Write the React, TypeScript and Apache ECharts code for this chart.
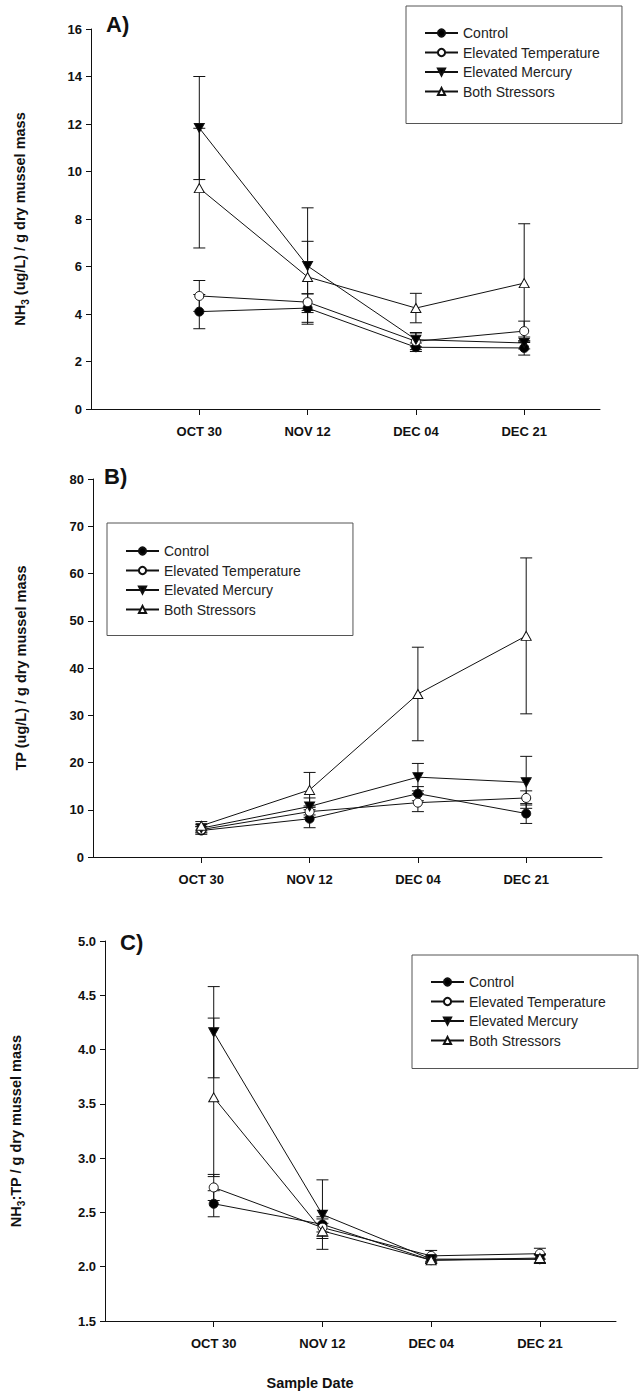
import React, { useEffect, useRef } from "react";
import * as echarts from "echarts";

const dates = ["OCT 30", "NOV 12", "DEC 04", "DEC 21"];
const seriesNames = ["Control", "Elevated Temperature", "Elevated Mercury", "Both Stressors"];

// Panel A: NH3 (ug/L) / g dry mussel mass
const nh3Control = [4.1, 4.25, 2.6, 2.57];
const nh3ControlErr = [0.72, 0.6, 0.18, 0.3];
const nh3Temp = [4.76, 4.5, 2.85, 3.28];
const nh3TempErr = [0.65, 0.35, 0.35, 0.42];
const nh3Mercury = [11.83, 6.02, 2.92, 2.78];
const nh3MercuryErr = [2.17, 2.45, 0.3, 0.25];
const nh3Both = [9.3, 5.56, 4.25, 5.3];
const nh3BothErr = [2.52, 1.5, 0.62, 2.5];

// Panel B: TP (ug/L) / g dry mussel mass
const tpControl = [5.6, 8.1, 13.4, 9.2];
const tpControlErr = [0.8, 1.9, 1.5, 2.1];
const tpTemp = [5.8, 9.6, 11.5, 12.5];
const tpTempErr = [0.7, 1.2, 1.9, 1.5];
const tpMercury = [6.1, 10.7, 16.9, 15.8];
const tpMercuryErr = [0.8, 1.8, 2.9, 5.5];
const tpBoth = [6.6, 14.2, 34.5, 46.8];
const tpBothErr = [0.9, 3.7, 9.9, 16.5];

// Panel C: NH3:TP / g dry mussel mass
const ratioControl = [2.58, 2.39, 2.06, 2.07];
const ratioControlErr = [0.12, 0.07, 0.03, 0.04];
const ratioTemp = [2.73, 2.36, 2.1, 2.12];
const ratioTempErr = [0.12, 0.08, 0.05, 0.05];
const ratioMercury = [4.16, 2.48, 2.07, 2.07];
const ratioMercuryErr = [0.42, 0.32, 0.03, 0.04];
const ratioBoth = [3.56, 2.33, 2.06, 2.08];
const ratioBothErr = [0.73, 0.07, 0.03, 0.04];

const yTicksA = { min: 0, max: 16, interval: 2 };
const yTicksB = { min: 0, max: 80, interval: 10 };
const yTicksC = { min: 1.5, max: 5.0, interval: 0.5 };

const xIdx = dates.map((_, i) => i + 1);

const FONT = "Arial, 'Liberation Sans', sans-serif";
const INK = "#111";

const markerStyles = [
  { symbol: "circle", symbolSize: 9, symbolRotate: 0, fill: "#000" },
  { symbol: "circle", symbolSize: 9, symbolRotate: 0, fill: "#fff" },
  { symbol: "triangle", symbolSize: [10, 9], symbolRotate: 180, fill: "#000" },
  { symbol: "triangle", symbolSize: [10, 9], symbolRotate: 0, fill: "#fff" },
];

function errorBarSeries(idx: number, vals: number[], errs: number[]) {
  return {
    type: "custom",
    name: "err" + idx,
    xAxisIndex: idx,
    yAxisIndex: idx,
    z: 1,
    silent: true,
    encode: { x: 0, y: 1 },
    data: xIdx.map((x, i) => [x, vals[i], errs[i]]),
    renderItem: (params: any, api: any) => {
      const x = api.value(0);
      const y = api.value(1);
      const e = api.value(2);
      const top = api.coord([x, y + e]);
      const bot = api.coord([x, y - e]);
      const hw = 6;
      const st = { stroke: INK, lineWidth: 1 };
      return {
        type: "group",
        children: [
          { type: "line", shape: { x1: top[0], y1: top[1], x2: bot[0], y2: bot[1] }, style: st },
          { type: "line", shape: { x1: top[0] - hw, y1: top[1], x2: top[0] + hw, y2: top[1] }, style: st },
          { type: "line", shape: { x1: bot[0] - hw, y1: bot[1], x2: bot[0] + hw, y2: bot[1] }, style: st },
        ],
      };
    },
  };
}

function lineSeries(idx: number, k: number, vals: number[]) {
  const m = markerStyles[k];
  return {
    type: "line",
    name: seriesNames[k],
    xAxisIndex: idx,
    yAxisIndex: idx,
    z: 3 + k,
    data: xIdx.map((x, i) => [x, vals[i]]),
    symbol: m.symbol,
    symbolSize: m.symbolSize,
    symbolRotate: m.symbolRotate,
    showAllSymbol: true,
    lineStyle: { color: INK, width: 1 },
    itemStyle: { color: m.fill, borderColor: INK, borderWidth: 1, opacity: 1 },
    emphasis: { disabled: true },
  };
}

const panels = [
  {
    vals: [nh3Control, nh3Temp, nh3Mercury, nh3Both],
    errs: [nh3ControlErr, nh3TempErr, nh3MercuryErr, nh3BothErr],
  },
  {
    vals: [tpControl, tpTemp, tpMercury, tpBoth],
    errs: [tpControlErr, tpTempErr, tpMercuryErr, tpBothErr],
  },
  {
    vals: [ratioControl, ratioTemp, ratioMercury, ratioBoth],
    errs: [ratioControlErr, ratioTempErr, ratioMercuryErr, ratioBothErr],
  },
];

const grids = [
  { left: 91, top: 29, width: 509, height: 380 },
  { left: 93, top: 479, width: 509, height: 378 },
  { left: 105, top: 941, width: 511, height: 380 },
];

const nameRich = {
  b: { fontFamily: FONT, fontWeight: "bold", fontSize: 14.5, color: INK, lineHeight: 21 },
  s: { fontFamily: FONT, fontWeight: "bold", fontSize: 10, color: INK, lineHeight: 10, verticalAlign: "bottom", padding: [6, 0, 0, 0] },
};

const yNames = [
  "{b|NH}{s|3}{b| (ug/L) / g dry mussel mass}",
  "{b|TP (ug/L) / g dry mussel mass}",
  "{b|NH}{s|3}{b|:TP / g dry mussel mass}",
];
const yGaps = [61, 62, 79];
const yTicks = [yTicksA, yTicksB, yTicksC];

function legendAt(left: number, top: number, padding: number[]) {
  return {
    data: seriesNames,
    orient: "vertical",
    left,
    top,
    padding,
    itemWidth: 33,
    itemHeight: 9,
    itemGap: 5.5,
    borderColor: "#555",
    borderWidth: 1,
    backgroundColor: "#fff",
    selectedMode: false,
    textStyle: { fontFamily: FONT, fontSize: 14, color: "#222" },
  };
}

export default function App() {
  const ref = useRef<HTMLDivElement>(null);
  useEffect(() => {
    const chart = echarts.init(ref.current!, null, { renderer: "svg" });
    const series: any[] = [];
    panels.forEach((p, idx) => {
      p.vals.forEach((v, k) => series.push(errorBarSeries(idx, v, p.errs[k])));
      p.vals.forEach((v, k) => series.push(lineSeries(idx, k, v)));
    });
    const option: any = {
      animation: false,
      backgroundColor: "#fff",
      textStyle: { fontFamily: FONT },
      grid: grids.map((g) => ({ ...g, containLabel: false })),
      xAxis: grids.map((_, i) => ({
        type: "value",
        gridIndex: i,
        min: 0,
        max: 4.7,
        interval: 1,
        axisLine: { show: true, lineStyle: { color: INK, width: 1 } },
        axisTick: { show: true, length: 6, lineStyle: { color: INK }, customValues: xIdx },
        axisLabel: {
          customValues: xIdx,
          margin: 16,
          fontFamily: FONT,
          fontWeight: "bold",
          fontSize: 13,
          color: INK,
          formatter: (v: number) => dates[Math.round(v) - 1] ?? "",
        },
        splitLine: { show: false },
      })),
      yAxis: grids.map((_, i) => ({
        type: "value",
        gridIndex: i,
        min: yTicks[i].min,
        max: yTicks[i].max,
        interval: yTicks[i].interval,
        name: yNames[i],
        nameLocation: "middle",
        nameRotate: 90,
        nameGap: yGaps[i],
        nameTextStyle: { rich: nameRich },
        axisLine: { show: true, lineStyle: { color: INK, width: 1 } },
        axisTick: { show: true, length: 5, lineStyle: { color: INK } },
        axisLabel: {
          margin: 9,
          fontFamily: FONT,
          fontWeight: "bold",
          fontSize: 13,
          color: INK,
          formatter: (v: number) => (i === 2 ? v.toFixed(1) : String(v)),
        },
        splitLine: { show: false },
      })),
      legend: [
        legendAt(406, 6, [20, 22, 25, 18]),
        legendAt(107, 523, [21, 52, 19, 18]),
        legendAt(412, 955, [20, 32, 21, 18]),
      ],
      graphic: [
        { type: "text", left: 106, top: 13, style: { text: "A)", fontFamily: FONT, fontWeight: "bold", fontSize: 22, fill: INK } },
        { type: "text", left: 104, top: 465, style: { text: "B)", fontFamily: FONT, fontWeight: "bold", fontSize: 22, fill: INK } },
        { type: "text", left: 120, top: 931, style: { text: "C)", fontFamily: FONT, fontWeight: "bold", fontSize: 22, fill: INK } },
        {
          type: "text",
          x: 310,
          y: 1383,
          style: { text: "Sample Date", fontFamily: FONT, fontWeight: "bold", fontSize: 14.5, fill: INK, align: "center", verticalAlign: "middle" },
        },
      ],
      series,
    };
    chart.setOption(option);
    return () => chart.dispose();
  }, []);
  return <div ref={ref} style={{ position: "absolute", left: 0, top: 0, width: 643, height: 1397 }} />;
}
